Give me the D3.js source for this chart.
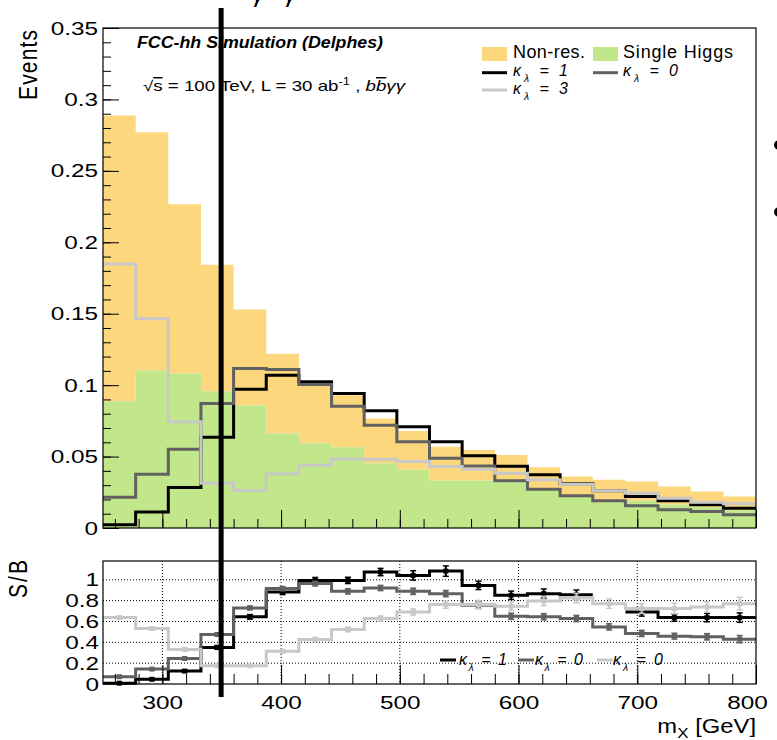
<!DOCTYPE html>
<html><head><meta charset="utf-8">
<script src="https://cdn.jsdelivr.net/npm/d3@7"></script>
<style>
body{margin:0;background:#fff;}
svg{display:block;font-family:"Liberation Sans",Arial,Helvetica,sans-serif;}
</style></head><body>
<svg id="c" width="777" height="740"></svg>
<script>
// ---------------- data ----------------
const binEdges = [250,277.5,305,332.5,360,387.5,415,442.5,470,497.5,525,552.5,580,607.5,635,662.5,690,717.5,745,772.5,800];
const singleHiggs = [0.0888,0.1104,0.1081,0.0957,0.0860,0.0662,0.0593,0.0565,0.0453,0.0407,0.0332,0.0332,0.0320,0.0270,0.0220,0.0195,0.0190,0.0165,0.0145,0.0125];
const nonRes      = [0.1999,0.1666,0.1185,0.0886,0.0669,0.0558,0.0417,0.0365,0.0314,0.0272,0.0237,0.0214,0.0191,0.0155,0.0140,0.0142,0.0135,0.0125,0.0110,0.0095];
const kl1 = [0.0023,0.0112,0.0283,0.0635,0.0971,0.1069,0.1023,0.0941,0.0820,0.0709,0.0604,0.0506,0.0432,0.0372,0.0310,0.0260,0.0220,0.0190,0.0162,0.0139];
const kl0 = [0.0216,0.0377,0.0551,0.0872,0.1116,0.1110,0.1004,0.0853,0.0720,0.0604,0.0488,0.0434,0.0330,0.0272,0.0225,0.0190,0.0156,0.0128,0.0116,0.0093];
const kl3 = [0.1848,0.1464,0.0743,0.0314,0.0262,0.0380,0.0440,0.0483,0.0481,0.0465,0.0430,0.0411,0.0383,0.0337,0.0307,0.0260,0.0244,0.0209,0.0181,0.0170];

const sb1 = [0.008,0.045,0.124,0.351,0.644,0.883,0.994,0.994,1.074,1.042,1.083,0.946,0.851,0.867,0.857,null,0.691,0.637,0.637,0.637];
const sb0 = [0.070,0.143,0.245,0.475,0.730,0.915,0.963,0.889,0.921,0.889,0.867,0.755,0.650,0.645,0.628,0.548,0.485,0.459,0.453,0.430];
const sb3 = [0.637,0.532,0.332,0.175,0.175,0.315,0.427,0.523,0.628,0.691,0.762,0.762,0.746,0.797,0.825,0.771,0.724,0.724,0.739,0.771];
const sb1Err = [0.004,0.008,0.012,0.018,0.022,0.025,0.028,0.030,0.035,0.045,0.050,0.040,0.040,0.045,0.045,null,0.040,0.035,0.040,0.045];
const sb0Err = [0.006,0.010,0.012,0.015,0.018,0.020,0.022,0.025,0.025,0.030,0.030,0.030,0.030,0.030,0.030,0.030,0.030,0.028,0.030,0.035];
const sb3Err = [0.012,0.015,0.015,0.010,0.010,0.015,0.020,0.022,0.025,0.030,0.035,0.040,0.040,0.045,0.045,0.045,0.045,0.050,0.050,0.060];

const yTopTicks  = [0,0.05,0.1,0.15,0.2,0.25,0.3,0.35];
const yTopLabels = ["0","0.05","0.1","0.15","0.2","0.25","0.3","0.35"];
const yBotTicks  = [0,0.2,0.4,0.6,0.8,1];
const yBotLabels = ["0","0.2","0.4","0.6","0.8","1"];
const xTicks     = [300,400,500,600,700,800];
const xLabels    = ["300","400","500","600","700","800"];
const markerLineX = 349.5;

// ---------------- setup ----------------
const svg = d3.select("#c");
const SX = 1.28;
const cOrange = "#fdd77d", cGreen = "#c2e68a", cBlack = "#000", cDark = "#616161", cLight = "#c8c8c8";

const x = d3.scaleLinear().domain([250,800]).range([103,756]);
const yTop = d3.scaleLinear().domain([0,0.35]).range([528,28]);
const yBot = d3.scaleLinear().domain([0,1.18]).range([684,561]);

function stepPts(vals){
  const pts=[];
  vals.forEach((v,i)=>{ pts.push({x:binEdges[i],y:v}); pts.push({x:binEdges[i+1],y:v}); });
  return pts;
}
function stretchLabels(g, sx){
  g.selectAll(".tick text").each(function(){
    const t=d3.select(this); const xx=+t.attr("x")||0;
    t.attr("x", xx/sx).attr("transform", `scale(${sx},1)`);
  });
}

// ---------------- top panel ----------------
const gTop = svg.append("g");
const stacked = singleHiggs.map((s,i)=>({s, t:s+nonRes[i]}));
const areaPts = [];
stacked.forEach((d,i)=>{ areaPts.push({x:binEdges[i],...d}); areaPts.push({x:binEdges[i+1],...d}); });
gTop.append("path").datum(areaPts).attr("fill",cOrange)
  .attr("d", d3.area().x(d=>x(d.x)).y0(d=>yTop(d.s)).y1(d=>yTop(d.t)));
gTop.append("path").datum(areaPts).attr("fill",cGreen)
  .attr("d", d3.area().x(d=>x(d.x)).y0(yTop(0)).y1(d=>yTop(d.s)));

const lineTop = d3.line().x(d=>x(d.x)).y(d=>yTop(d.y));
[[kl1,cBlack],[kl0,cDark],[kl3,cLight]].forEach(([v,c])=>{
  gTop.append("path").datum(stepPts(v)).attr("fill","none").attr("stroke",c)
    .attr("stroke-width",3).attr("stroke-linejoin","miter").attr("d",lineTop);
});

// axes top
const yAxT = gTop.append("g").attr("transform","translate(103,0)")
  .call(d3.axisLeft(yTop).tickValues(yTopTicks).tickSize(-16).tickSizeOuter(0).tickPadding(5)
    .tickFormat((d,i)=>yTopLabels[i]));
yAxT.select(".domain").remove();
yAxT.attr("font-size",19).attr("font-family",null);
yAxT.selectAll(".tick text").attr("fill","#000");
stretchLabels(yAxT, SX);
const yAxTm = gTop.append("g").attr("transform","translate(103,0)")
  .call(d3.axisLeft(yTop).tickValues(d3.range(0,0.3501,0.01)).tickSize(-8).tickSizeOuter(0).tickFormat(""));
yAxTm.select(".domain").remove();

const xAxT = gTop.append("g").attr("transform","translate(0,528)")
  .call(d3.axisBottom(x).tickValues(xTicks).tickSize(-18).tickSizeOuter(0).tickFormat(""));
xAxT.select(".domain").remove();
const xAxTm = gTop.append("g").attr("transform","translate(0,528)")
  .call(d3.axisBottom(x).tickValues(d3.range(260,800,20)).tickSize(-9).tickSizeOuter(0).tickFormat(""));
xAxTm.select(".domain").remove();
gTop.append("rect").attr("x",103).attr("y",28).attr("width",653).attr("height",500)
  .attr("fill","none").attr("stroke","#000").attr("stroke-width",1.2);

// Texts top
gTop.append("text").attr("transform","translate(37,30) scale(1.25,1) rotate(-90)")
  .attr("text-anchor","end").attr("font-size",21).attr("textLength",70).text("Events");

gTop.append("text").attr("x",137).attr("y",48).attr("font-size",16).attr("font-weight","bold")
  .attr("font-style","italic").attr("textLength",246).attr("lengthAdjust","spacingAndGlyphs")
  .text("FCC-hh Simulation (Delphes)");

const en = gTop.append("text").attr("x",143).attr("y",91).attr("font-size",14.5)
  .attr("textLength",262).attr("lengthAdjust","spacingAndGlyphs");
en.append("tspan").text("√");
en.append("tspan").attr("text-decoration","overline").text("s");
en.append("tspan").text(" = 100 TeV, L = 30 ab");
en.append("tspan").attr("dy",-6).attr("font-size",10).text("-1");
en.append("tspan").attr("dy",6).text("  , ");
en.append("tspan").attr("font-style","italic").text("b");
en.append("tspan").attr("font-style","italic").attr("text-decoration","overline").text("b");
en.append("tspan").attr("font-style","italic").text("γγ");

// legend top
const lg = gTop.append("g");
lg.append("rect").attr("x",482).attr("y",47).attr("width",25).attr("height",14).attr("fill",cOrange);
lg.append("rect").attr("x",593).attr("y",47).attr("width",25).attr("height",14).attr("fill",cGreen);
lg.append("text").attr("x",513).attr("y",58).attr("font-size",18).attr("textLength",72).text("Non-res.");
lg.append("text").attr("x",623).attr("y",58).attr("font-size",18).attr("textLength",110).text("Single Higgs");
function kappa(g,xx,yy,val,fs,len){
  const t=g.append("text").attr("x",xx).attr("y",yy).attr("font-size",fs).attr("font-style","italic")
    .attr("textLength",len).attr("lengthAdjust","spacing");
  t.append("tspan").text("κ");
  t.append("tspan").attr("dy",fs*0.35).attr("font-size",fs*0.65).text("λ");
  t.append("tspan").attr("dy",-fs*0.35).text(" = "+val);
  return t;
}
[[482,72.7,cBlack],[593,72.7,cDark],[482,90,cLight]].forEach(([xx,yy,c])=>{
  lg.append("line").attr("x1",xx).attr("x2",xx+25).attr("y1",yy).attr("y2",yy).attr("stroke",c).attr("stroke-width",3);
});
kappa(lg,513,76,"1",16,55);
kappa(lg,623,76,"0",16,55);
kappa(lg,513,94,"3",16,55);

// ---------------- bottom panel ----------------
const gBot = svg.append("g");
gBot.selectAll(".gh").data(yBotTicks.filter(d=>d>0)).enter().append("line")
  .attr("x1",103).attr("x2",756).attr("y1",d=>yBot(d)).attr("y2",d=>yBot(d))
  .attr("stroke","#000").attr("stroke-width",1).attr("stroke-dasharray","1,2");
gBot.selectAll(".gv").data(xTicks.filter(d=>d<800)).enter().append("line")
  .attr("y1",561).attr("y2",684).attr("x1",d=>x(d)).attr("x2",d=>x(d))
  .attr("stroke","#000").attr("stroke-width",1).attr("stroke-dasharray","1,2");

const bl = gBot.append("g");
[[440,cBlack],[518,cDark],[597,cLight]].forEach(([xx,c])=>{
  bl.append("line").attr("x1",xx).attr("x2",xx+16).attr("y1",660).attr("y2",660).attr("stroke",c).attr("stroke-width",3);
});
kappa(bl,459,665,"1",16,48);
kappa(bl,535,665,"0",16,48);
kappa(bl,613,665,"0",16,50);

const lineBot = d3.line().defined(d=>d.y!=null).x(d=>x(d.x)).y(d=>yBot(d.y));
[[sb1,sb1Err,cBlack],[sb0,sb0Err,cDark],[sb3,sb3Err,cLight]].forEach(([v,e,c])=>{
  const g = gBot.append("g");
  g.append("path").datum(stepPts(v)).attr("fill","none").attr("stroke",c).attr("stroke-width",3).attr("d",lineBot);
  const pts = v.map((d,i)=>({v:d,e:e[i],cx:(binEdges[i]+binEdges[i+1])/2})).filter(d=>d.v!=null);
  g.selectAll(".eb").data(pts).enter().append("line")
    .attr("x1",d=>x(d.cx)).attr("x2",d=>x(d.cx)).attr("y1",d=>yBot(d.v-d.e)).attr("y2",d=>yBot(d.v+d.e))
    .attr("stroke",c).attr("stroke-width",2);
  [-1,1].forEach(s=>{
    g.selectAll(".cap"+s).data(pts).enter().append("line")
      .attr("x1",d=>x(d.cx)-3).attr("x2",d=>x(d.cx)+3)
      .attr("y1",d=>yBot(d.v+s*d.e)).attr("y2",d=>yBot(d.v+s*d.e))
      .attr("stroke",c).attr("stroke-width",1.5);
  });
  g.selectAll(".mk").data(pts).enter().append("rect")
    .attr("x",d=>x(d.cx)-2.5).attr("y",d=>yBot(d.v)-2.5).attr("width",5).attr("height",5).attr("fill",c);
});

const yAxB = gBot.append("g").attr("transform","translate(103,0)")
  .call(d3.axisLeft(yBot).tickValues(yBotTicks).tickSize(0).tickSizeOuter(0).tickPadding(4)
    .tickFormat((d,i)=>yBotLabels[i]));
yAxB.select(".domain").remove();
yAxB.attr("font-size",19).attr("font-family",null);
yAxB.selectAll(".tick text").attr("fill","#000");
stretchLabels(yAxB, SX);

const xAxB = gBot.append("g").attr("transform","translate(0,684)")
  .call(d3.axisBottom(x).tickValues(xTicks).tickSize(-19).tickSizeOuter(0).tickPadding(12)
    .tickFormat((d,i)=>xLabels[i]));
xAxB.select(".domain").remove();
xAxB.attr("font-size",19).attr("font-family",null);
xAxB.selectAll(".tick text").attr("fill","#000").attr("y",25).attr("dy",0);
stretchLabels(xAxB, SX);
xAxB.selectAll(".tick text").filter(d=>d===800).attr("x",-9/SX);
const xAxBm = gBot.append("g").attr("transform","translate(0,684)")
  .call(d3.axisBottom(x).tickValues(d3.range(260,800,20)).tickSize(-10).tickSizeOuter(0).tickFormat(""));
xAxBm.select(".domain").remove();
gBot.append("rect").attr("x",103).attr("y",561).attr("width",653).attr("height",123)
  .attr("fill","none").attr("stroke","#000").attr("stroke-width",1.2);

gBot.append("text").attr("transform","translate(27,560) scale(1.25,1) rotate(-90)")
  .attr("text-anchor","end").attr("font-size",21).attr("textLength",38).text("S/B");

const mx = gBot.append("text").attr("transform","translate(756,733) scale(1.22,1)")
  .attr("text-anchor","end").attr("font-size",19.5);
mx.append("tspan").text("m");
mx.append("tspan").attr("dy",5).attr("font-size",14).text("X");
mx.append("tspan").attr("dy",-5).text(" [GeV]");

// ---------------- overlays ----------------
svg.append("line").attr("x1",x(markerLineX)).attr("x2",x(markerLineX)).attr("y1",8).attr("y2",697)
  .attr("stroke","#000").attr("stroke-width",5);
svg.append("text").attr("x",252).attr("y",2).attr("font-size",26).attr("font-style","italic").text("γ");
svg.append("text").attr("x",284).attr("y",2).attr("font-size",26).attr("font-style","italic").text("γ");
svg.append("circle").attr("cx",779).attr("cy",145).attr("r",5).attr("fill","#000");
svg.append("circle").attr("cx",779).attr("cy",212).attr("r",5).attr("fill","#000");
</script>
</body></html>
